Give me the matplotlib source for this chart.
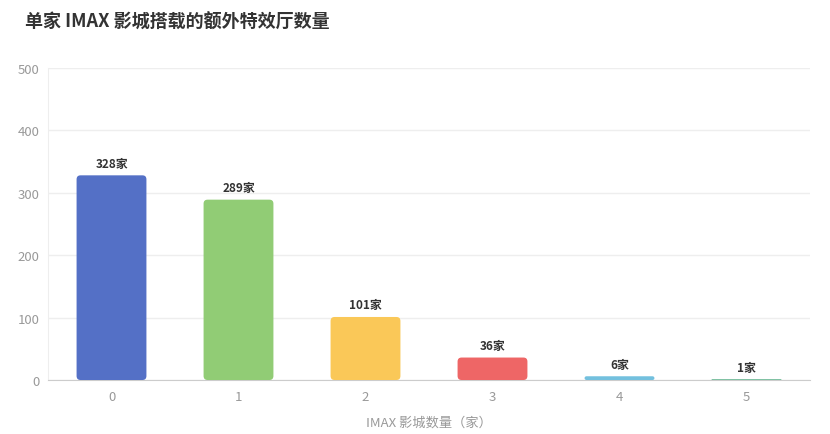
import matplotlib
matplotlib.use("Agg")
import matplotlib.pyplot as plt
from matplotlib.patches import FancyBboxPatch

plt.rcParams['font.family'] = ['Noto Sans CJK SC', 'DejaVu Sans']

categories = ["0", "1", "2", "3", "4", "5"]
values = [328, 289, 101, 36, 6, 1]
labels = ["328家", "289家", "101家", "36家", "6家", "1家"]
colors = ["#5470c6", "#91cc75", "#fac858", "#ee6666", "#73c0de", "#3ba272"]
yticks = [0, 100, 200, 300, 400, 500]
title = "单家 IMAX 影城搭载的额外特效厅数量"
xlabel = "IMAX 影城数量（家）"

W, H = 830, 435
fig = plt.figure(figsize=(W / 100, H / 100), dpi=100)
left, right, top, bottom = 48, 810, 69, 381
ax = fig.add_axes([left / W, 1 - bottom / H, (right - left) / W, (bottom - top) / H])

x = list(range(len(categories)))
bars = ax.bar(x, values, width=0.55, color=colors, zorder=3)
ax.set_xlim(-0.5, len(categories) - 0.5)
ax.set_ylim(0, 500)

# rounded corners
px_per_x = (right - left) / len(categories)
px_per_y = (bottom - top) / 500
aspect = px_per_x / px_per_y
for rect, c in zip(bars, colors):
    bx, by = rect.get_x(), rect.get_y()
    bw, bh = rect.get_width(), rect.get_height()
    r_px = min(4.0, bh * px_per_y / 2)
    fb = FancyBboxPatch((bx, by), bw, bh,
                        boxstyle=f"round,pad=0,rounding_size={r_px / px_per_x}",
                        mutation_aspect=aspect, facecolor=c, edgecolor='none', zorder=3)
    ax.add_patch(fb)
    rect.set_visible(False)

for xi, v, lab in zip(x, values, labels):
    ax.annotate(lab, (xi, v), xytext=(0, 4), textcoords='offset points',
                ha='center', va='bottom', fontsize=8.5, fontweight='bold', color='#333333')

ax.set_yticks(yticks)
ax.set_xticks(x)
ax.set_xticklabels(categories)
ax.tick_params(axis='both', length=0, labelsize=9.5, colors='#999999')
ax.tick_params(axis='x', pad=7)
ax.tick_params(axis='y', pad=6)
ax.grid(axis='y', color='#eeeeee', linewidth=1, zorder=0)
for s in ['top', 'right']:
    ax.spines[s].set_visible(False)
ax.spines['left'].set_color('#eeeeee')
ax.spines['bottom'].set_color('#cccccc')
ax.set_xlabel(xlabel, fontsize=9.5, color='#999999', labelpad=9)

fig.text(25 / W, 1 - 22 / H, title, fontsize=13, fontweight='bold', color='#333333',
         ha='left', va='center')

fig.savefig("out.png", dpi=100, facecolor='white')
